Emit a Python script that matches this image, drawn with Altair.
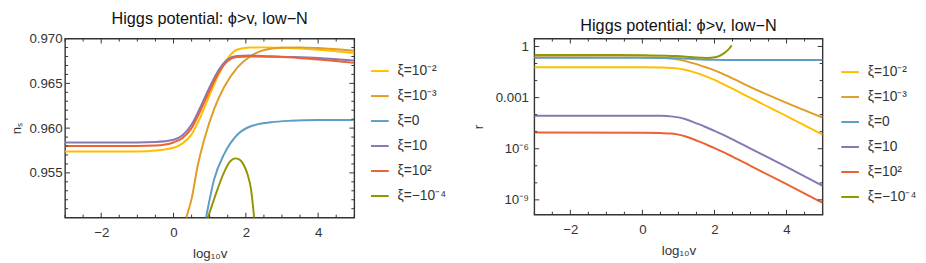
import altair as alt
import pandas as pd

FONT = "Liberation Sans"
TITLE = "Higgs potential: ϕ>v, low−N"

labels = ["ξ=10⁻²", "ξ=10⁻³", "ξ=0", "ξ=10", "ξ=10²", "ξ=−10⁻⁴"]
colors = ["#FFBF00", "#E19C24", "#5D9EC7", "#8778B3", "#EB6235", "#929600"]

# ---------- left panel: n_s vs log10 v ----------
ns_v_yel = [-3, -1, -0.5, 0, 0.25, 0.5, 0.75, 1.0, 1.25, 1.5, 1.75, 2.1, 2.5, 3, 4, 5]
ns_yel = [0.95739, 0.9574, 0.9575, 0.9578, 0.9583, 0.9593, 0.9613, 0.9637, 0.9660, 0.9678,
          0.96875, 0.9690, 0.96902, 0.96898, 0.96876, 0.96839]
ns_v_ora = [0.35, 0.5, 0.67, 0.85, 1.13, 1.4, 1.77, 2.14, 2.51, 2.97, 3.5, 4, 5]
ns_ora = [0.9500, 0.9521, 0.95582, 0.95874, 0.96221, 0.96459, 0.96679, 0.96806, 0.96872,
          0.96898, 0.96902, 0.96894, 0.96865]
ns_v_blu = [0.9, 1.13, 1.4, 1.77, 2.14, 2.69, 3.24, 4, 5]
ns_blu = [0.9500, 0.95436, 0.95710, 0.95929, 0.96021, 0.96065, 0.96082, 0.9609, 0.9609]
ns_v_pur = [-3, -1, -0.5, 0, 0.25, 0.5, 0.75, 1.0, 1.25, 1.5, 1.75, 2.1, 3, 4, 5]
ns_pur = [0.9584, 0.9584, 0.95845, 0.9587, 0.9592, 0.9604, 0.9624, 0.9646, 0.9665, 0.9677,
          0.96805, 0.9681, 0.96798, 0.96784, 0.96755]
ns_v_red = [-3, -1, -0.5, 0, 0.25, 0.5, 0.75, 1.0, 1.25, 1.5, 1.75, 2.1, 3, 4, 5]
ns_red = [0.9580, 0.9580, 0.95805, 0.9584, 0.9589, 0.9600, 0.9620, 0.9642, 0.9662, 0.9675,
          0.96795, 0.9680, 0.96795, 0.96766, 0.96729]
ns_v_oli = [0.95, 1.13, 1.4, 1.55, 1.72, 1.85, 1.95, 2.05, 2.14, 2.23]
ns_oli = [0.9500, 0.95216, 0.95509, 0.9562, 0.95662, 0.9564, 0.95582, 0.9548, 0.95326, 0.9500]

# ---------- right panel: log10 r vs log10 v ----------
r_v_knee = [-3, 0, 0.5, 0.8, 1.0, 1.2, 1.4, 1.6, 1.8, 2.0, 2.2, 2.5, 3, 4, 5]
lr_yel = [-1.22, -1.22, -1.235, -1.26, -1.30, -1.38, -1.49, -1.62, -1.78, -1.96, -2.16,
          -2.47, -3.02, -4.08, -5.17]
lr_ora = [-0.63, -0.64, -0.66, -0.71, -0.77, -0.86, -0.98, -1.11, -1.25, -1.40, -1.58,
          -1.87, -2.38, -3.31, -4.17]
lr_pur = [-4.06, -4.06, -4.07, -4.10, -4.16, -4.27, -4.42, -4.59, -4.77, -4.95, -5.14,
          -5.45, -5.99, -7.06, -8.17]
lr_red = [-5.05, -5.06, -5.08, -5.11, -5.17, -5.28, -5.43, -5.60, -5.78, -5.96, -6.15,
          -6.46, -7.00, -8.08, -9.17]
r_v_blu = [-3, 0, 1, 1.5, 2, 2.5, 5]
lr_blu = [-0.66, -0.66, -0.69, -0.745, -0.78, -0.79, -0.79]
r_v_oli = [-3, -1, 0.04, 0.95, 1.4, 1.78, 2.05, 2.25, 2.39, 2.48]
lr_oli = [-0.50, -0.50, -0.52, -0.56, -0.63, -0.67, -0.62, -0.42, -0.17, 0.06]

# ticks
x_major = [-2, 0, 2, 4]
x_minor = [-3, -2.5, -1.5, -1, -0.5, 0.5, 1, 1.5, 2.5, 3, 3.5, 4.5, 5]
ns_major = [0.955, 0.960, 0.965, 0.970]
ns_minor = [0.951, 0.952, 0.953, 0.954, 0.956, 0.957, 0.958, 0.959, 0.961, 0.962,
            0.963, 0.964, 0.966, 0.967, 0.968, 0.969]
r_major = [1e-9, 1e-6, 1e-3, 1]
r_minor = [1e-8, 1e-7, 1e-5, 1e-4, 1e-2, 1e-1]


def long_df(vs, ys):
    rows = []
    for lab, vv, yy in zip(labels, vs, ys):
        for a, b in zip(vv, yy):
            rows.append({"v": a, "y": b, "series": lab})
    return pd.DataFrame(rows)


XAXIS = alt.Axis(values=x_major, ticks=False, domain=False, grid=False,
                 labelPadding=8, titlePadding=8, labelFontSize=13.5,
                 titleFontSize=13.5, titleFontWeight="normal",
                 labelFont=FONT, titleFont=FONT, labelColor="#333", titleColor="#333")


def panel(df, yscale, ytitle, yaxis, ymaj, ymin, W, H, lx, ly):
    xs = alt.Scale(domain=[-3, 5], nice=False, zero=False)
    xenc = lambda f: alt.X(f, scale=xs, title="log₁₀v", axis=XAXIS)
    yenc = lambda f: alt.Y(f, scale=yscale, title=ytitle, axis=yaxis)
    lines = alt.Chart(df).mark_line(strokeWidth=2, clip=True, interpolate="monotone").encode(
        x=xenc("v:Q"),
        y=yenc("y:Q"),
        color=alt.Color("series:N", scale=alt.Scale(domain=labels, range=colors),
                        legend=alt.Legend(orient="none", legendX=lx, legendY=ly, title=None,
                                          symbolType="stroke", symbolSize=324,
                                          symbolStrokeWidth=2, labelFontSize=14,
                                          labelFont=FONT, labelColor="#333",
                                          labelOffset=8, rowPadding=8.4)),
    )
    layers = [lines]
    for vals, L in ((x_major, 5), (x_minor, 3)):
        d = pd.DataFrame({"v": vals})
        layers.append(alt.Chart(d).mark_rule(color="#333", strokeWidth=1).encode(
            x=xenc("v:Q"), y=alt.value(H), y2=alt.value(H - L)))
        layers.append(alt.Chart(d).mark_rule(color="#333", strokeWidth=1).encode(
            x=xenc("v:Q"), y=alt.value(0), y2=alt.value(L)))
    for vals, L in ((ymaj, 5), (ymin, 3)):
        d = pd.DataFrame({"y": vals})
        layers.append(alt.Chart(d).mark_rule(color="#333", strokeWidth=1).encode(
            y=yenc("y:Q"), x=alt.value(0), x2=alt.value(L)))
        layers.append(alt.Chart(d).mark_rule(color="#333", strokeWidth=1).encode(
            y=yenc("y:Q"), x=alt.value(W), x2=alt.value(W - L)))
    return alt.layer(*layers).properties(
        width=W, height=H,
        title=alt.TitleParams(TITLE, font=FONT, fontSize=16.5, fontWeight="normal",
                              color="#111", offset=4))


df_ns = long_df([ns_v_yel, ns_v_ora, ns_v_blu, ns_v_pur, ns_v_red, ns_v_oli],
                [ns_yel, ns_ora, ns_blu, ns_pur, ns_red, ns_oli])
df_r = long_df([r_v_knee, r_v_knee, r_v_blu, r_v_knee, r_v_knee, r_v_oli],
               [lr_yel, lr_ora, lr_blu, lr_pur, lr_red, lr_oli])
df_r["y"] = 10.0 ** df_r["y"]

ns_axis = alt.Axis(values=ns_major, format=".3f", ticks=False, domain=False, grid=False,
                   labelPadding=3, titlePadding=6, labelFontSize=13.5, titleFontSize=13.5,
                   titleFontWeight="normal", labelFont=FONT, titleFont=FONT,
                   labelColor="#333", titleColor="#333")
r_axis = alt.Axis(values=r_major, ticks=False, domain=False, grid=False,
                  labelExpr="datum.value >= 0.5 ? '1' : datum.value >= 0.0005 ? '0.001' : datum.value >= 5e-7 ? '10⁻⁶' : '10⁻⁹'",
                  labelPadding=6, titlePadding=10, labelFontSize=13.5, titleFontSize=13.5,
                  titleFontWeight="normal", labelFont=FONT, titleFont=FONT,
                  labelColor="#333", titleColor="#333")

left = panel(df_ns, alt.Scale(domain=[0.95, 0.97], nice=False, zero=False), "nₛ",
             ns_axis, ns_major, ns_minor, 294, 182, 310, 23)
right = panel(df_r, alt.Scale(type="log", domain=[1.35e-10, 2.9], nice=False), "r",
              r_axis, r_major, r_minor, 293, 179, 311, 24)

chart = alt.hconcat(left, right, spacing=23).resolve_scale(color="independent").properties(
    padding={"left": 0, "top": 0, "right": 0, "bottom": 0}
).configure_view(stroke="#333", strokeWidth=1.4)

chart.save("out.html", embed_options={"renderer": "svg", "actions": False})
